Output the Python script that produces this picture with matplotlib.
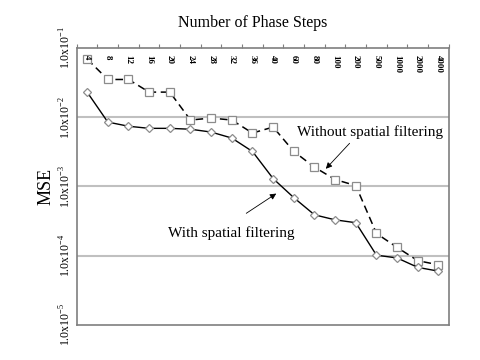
#!/usr/bin/env python3
import numpy as np
import matplotlib
matplotlib.use("Agg")
import matplotlib.pyplot as plt

plt.rcParams['font.family'] = ['Liberation Serif', 'DejaVu Serif']
plt.rcParams['mathtext.fontset'] = 'custom'
plt.rcParams['mathtext.rm'] = 'Liberation Serif'

# phase step categories (equal spacing, like a category axis)
steps = ['4', '8', '12', '16', '20', '24', '28', '32', '36', '40',
         '60', '80', '100', '200', '500', '1000', '2000', '4000']

mse_without = [0.069, 0.035, 0.035, 0.023, 0.023, 0.0091, 0.0097, 0.0091, 0.0059,
               0.0072, 0.0032, 0.0019, 0.00126, 0.00103, 0.00021, 0.000132,
               0.000085, 0.000074]
mse_with = [0.023, 0.0085, 0.0074, 0.0069, 0.0069, 0.0067, 0.0061, 0.0050, 0.0032,
            0.0013, 0.00069, 0.00039, 0.00033, 0.00030, 0.000102, 0.000093,
            0.000068, 0.000060]

ytick_vals = [1e-5, 1e-4, 1e-3, 1e-2, 1e-1]
ytick_labels = [r'1.0x10$^{-5}$', r'1.0x10$^{-4}$', r'1.0x10$^{-3}$',
                r'1.0x10$^{-2}$', r'1.0x10$^{-1}$']

frame_col = '#7f7f7f'
grid_col = '#c0c0c0'
mark_col = '#8c8c8c'


# ============================================================================
def plot_mse():
    fig = plt.figure(figsize=(4.8, 3.6), dpi=100)
    ax = fig.add_axes([0.160, 0.097, 0.775, 0.770])

    x = np.arange(len(steps))

    # horizontal gridlines at the decades
    for v in ytick_vals[1:-1]:
        ax.axhline(v, color=grid_col, lw=1.5, zorder=1)

    ax.plot(x, mse_without, color='black', lw=1.1, ls=(0, (5, 3)),
            marker='s', ms=5.5, mfc='white', mec=mark_col, mew=0.9, zorder=3)
    ax.plot(x, mse_with, color='black', lw=1.0, ls='-',
            marker='D', ms=4.0, mfc='white', mec=mark_col, mew=0.9, zorder=3)

    ax.set_yscale('log')
    ax.set_ylim(1e-5, 1e-1)
    ax.set_xlim(-0.5, len(steps) - 0.5)

    ax.set_yticks(ytick_vals)
    ax.set_yticklabels(ytick_labels, rotation=90, va='center', fontsize=8.5)
    ax.yaxis.set_minor_locator(matplotlib.ticker.NullLocator())
    ax.tick_params(axis='y', length=0, pad=2)

    # category ticks on top between categories, labels inside the frame
    ax.xaxis.tick_top()
    ax.set_xticks(np.arange(len(steps) + 1) - 0.5)
    ax.set_xticklabels([])
    ax.tick_params(axis='x', direction='out', length=3, width=0.8, color=frame_col)
    for i, s in enumerate(steps):
        ax.text(i, 0.975, s, transform=ax.get_xaxis_transform(), rotation=270,
                ha='center', va='top', fontsize=6.5, fontweight='bold')

    for sp in ax.spines.values():
        sp.set_color(frame_col)
        sp.set_linewidth(1.2)

    ax.set_ylabel('MSE', fontsize=13, labelpad=3)
    fig.text(0.527, 0.935, 'Number of Phase Steps', ha='center', va='center',
             fontsize=11.5)

    arrow = dict(arrowstyle='-|>', color='black', lw=0.6, mutation_scale=9,
                 shrinkA=0, shrinkB=0)
    ax.annotate('', xy=(11.55, 0.0018), xytext=(12.7, 0.0042),
                arrowprops=arrow)
    ax.text(13.7, 0.0061, 'Without spatial filtering', ha='center',
            va='center', fontsize=11)
    ax.annotate('', xy=(9.15, 0.00079), xytext=(7.7, 0.00041),
                arrowprops=arrow)
    ax.text(6.95, 0.00021, 'With spatial filtering', ha='center',
            va='center', fontsize=11)

    fig.savefig('out.png', dpi=100)


# ============================================================================
if __name__ == "__main__":
    plot_mse()
